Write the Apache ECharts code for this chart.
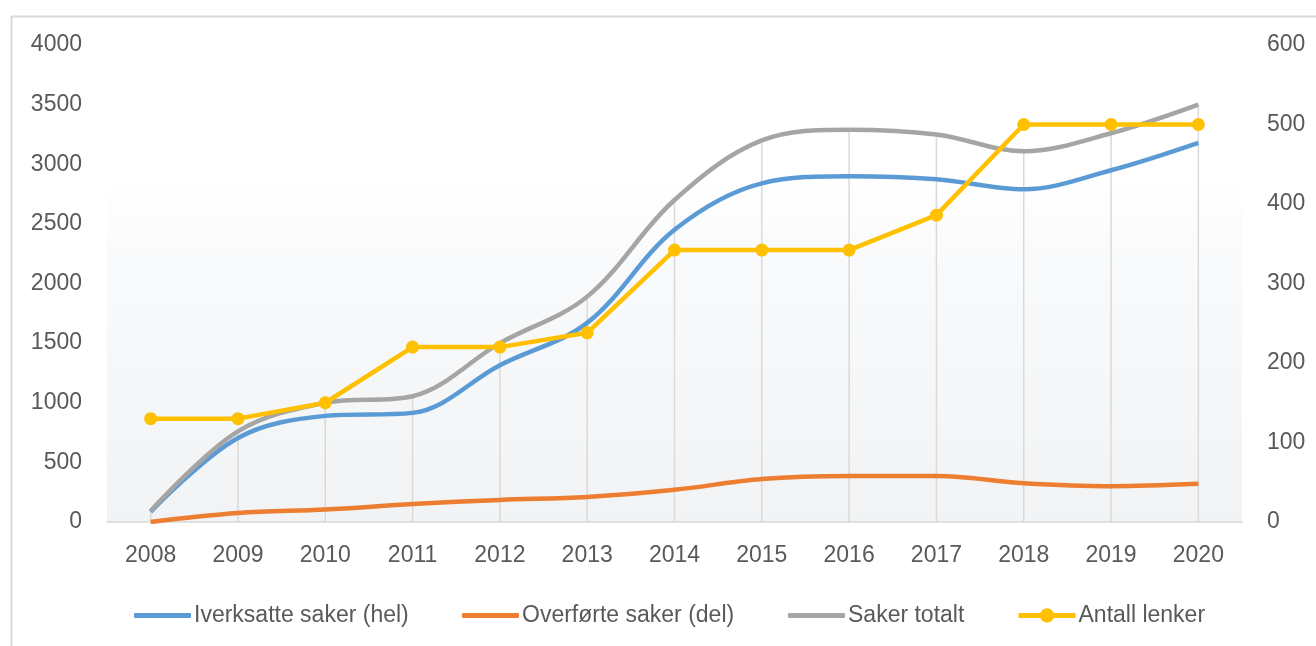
<!DOCTYPE html>
<html>
<head>
<meta charset="utf-8">
<script src="https://cdn.jsdelivr.net/npm/echarts@6/dist/echarts.min.js"></script>
<style>
html,body{margin:0;padding:0;background:#fff;}
#c{width:1316px;height:646px;}
</style>
</head>
<body>
<div id="c"></div>
<script>
const years = ['2008','2009','2010','2011','2012','2013','2014','2015','2016','2017','2018','2019','2020'];
const iverksatte = [85, 705, 890, 915, 1315, 1670, 2450, 2840, 2900, 2875, 2790, 2950, 3180];
const overforte = [0, 75, 105, 150, 185, 210, 270, 360, 385, 385, 325, 300, 320];
const sakerTotalt = [92, 760, 1000, 1055, 1500, 1890, 2700, 3200, 3290, 3250, 3110, 3260, 3500];
const antallLenker = [130, 130, 150, 220, 220, 238, 342, 342, 342, 386, 500, 500, 500];
const leftTicks = {min: 0, max: 4000, interval: 500};
const rightTicks = {min: 0, max: 600, interval: 100};
const names = ['Iverksatte saker (hel)', 'Overførte saker (del)', 'Saker totalt', 'Antall lenker'];

const chart = echarts.init(document.getElementById('c'), null, {renderer: 'canvas'});
const labelFont = {color: '#595959', fontSize: 23, fontFamily: 'Liberation Sans, Arial, sans-serif'};
const legendFont = {color: '#595959', fontSize: 23, fontFamily: 'Liberation Sans, Arial, sans-serif', padding: [0, 0, 0, -2]};
function lg(name, left, isLine) {
  return {data: [isLine ? {name: name, icon: 'roundRect'} : name], left: left - 4, top: 599, itemWidth: 57,
    itemHeight: isLine ? 5 : 18, itemGap: 0, textStyle: legendFont, selectedMode: false,
    lineStyle: {width: 5}};
}
chart.setOption({
  animation: false,
  graphic: [{type: 'rect', left: 9, top: 14, shape: {width: 1400, height: 700}, style: {fill: null, stroke: '#d9d9d9', lineWidth: 2}, silent: true, z: -1}],
  grid: {left: 107, right: 74, top: 45, bottom: 124, show: true, borderWidth: 0,
    backgroundColor: new echarts.graphic.LinearGradient(0, 0, 0, 1, [
      {offset: 0, color: '#ffffff'}, {offset: 0.28, color: '#ffffff'}, {offset: 0.45, color: '#f9fafb'}, {offset: 1, color: '#f2f3f5'}])},
  legend: [lg(names[0], 133, true), lg(names[1], 461, true), lg(names[2], 787, true), lg(names[3], 1015, false)],
  xAxis: {type: 'category', data: years, boundaryGap: true,
    axisLine: {show: true, lineStyle: {color: '#d9d9d9', width: 1.5}},
    axisTick: {show: false}, splitLine: {show: false},
    axisLabel: Object.assign({margin: 22}, labelFont)},
  yAxis: [
    {type: 'value', min: leftTicks.min, max: leftTicks.max, interval: leftTicks.interval,
      axisLine: {show: false}, axisTick: {show: false}, splitLine: {show: false},
      axisLabel: Object.assign({margin: 25, formatter: v => String(v)}, labelFont)},
    {type: 'value', min: rightTicks.min, max: rightTicks.max, interval: rightTicks.interval, position: 'right',
      axisLine: {show: false}, axisTick: {show: false}, splitLine: {show: false},
      axisLabel: Object.assign({margin: 25, formatter: v => String(v)}, labelFont)}
  ],
  series: [
    {name: 'drop', type: 'bar', data: sakerTotalt, barWidth: 1.5, itemStyle: {color: '#d9d9d9'}, z: 1, silent: true},
    {name: names[0], type: 'line', data: iverksatte, smooth: 0.35, showSymbol: false, symbol: 'none',
      lineStyle: {color: '#5B9BD5', width: 4.5}, itemStyle: {color: '#5B9BD5'}, z: 3},
    {name: names[1], type: 'line', data: overforte, smooth: 0.35, showSymbol: false, symbol: 'none',
      lineStyle: {color: '#ED7D31', width: 4.5}, itemStyle: {color: '#ED7D31'}, z: 3},
    {name: names[2], type: 'line', data: sakerTotalt, smooth: 0.35, showSymbol: false, symbol: 'none',
      lineStyle: {color: '#A5A5A5', width: 4.5}, itemStyle: {color: '#A5A5A5'}, z: 4},
    {name: names[3], type: 'line', yAxisIndex: 1, data: antallLenker, smooth: false, symbol: 'circle', symbolSize: 13,
      lineStyle: {color: '#FFC000', width: 4.5}, itemStyle: {color: '#FFC000'}, z: 5}
  ]
});
</script>
</body>
</html>
